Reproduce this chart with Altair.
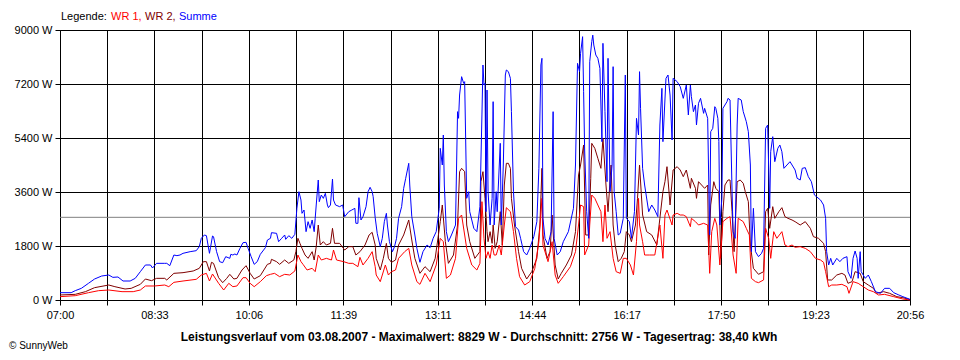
import altair as alt
import pandas as pd

# ---------------- data (minutes after 07:00, watts) ----------------
wr1_t = [0, 15, 28, 38, 48, 61, 72, 79, 84, 93, 103,
         107, 112, 121, 134, 139, 144, 147, 150, 156, 161, 166, 170, 174, 180, 183, 187, 191, 197, 203, 207,
         211, 216, 221, 226, 231, 234, 237, 239, 243, 248, 251, 254, 257, 262, 267, 269, 272, 279, 284, 288, 293, 295, 298, 303, 307, 310,
         311, 315, 320, 323, 326, 330, 333, 339, 343, 346, 351, 354, 359, 364, 370, 374, 377, 380, 384, 389, 392, 395, 400, 405, 410, 413,
         415, 417, 419, 421, 423, 425, 427, 429, 432, 434, 437, 439, 443, 446, 449, 452, 457, 462, 467, 471, 474, 475, 480, 484, 487, 490, 495, 502, 507, 510, 512, 515,
         516, 520, 521, 523, 526, 529, 532, 534, 536, 538, 541, 544, 547, 551, 554, 557, 561, 564, 567, 569, 570, 573, 575, 580, 585, 590, 593, 595, 597, 602, 603, 607, 610, 613, 616, 620,
         621, 625, 628, 633, 637, 639, 641, 644, 646, 649, 652, 656, 659, 662, 665, 667, 672, 675, 678, 680, 684, 687, 692, 694, 697, 699, 702, 705, 710, 713, 716, 720, 723,
         728, 733, 738, 743, 748, 751, 753, 756, 759, 764, 769, 774, 776, 780, 785, 790, 795, 800, 805, 811, 820, 829, 836]
wr1_w = [111, 144, 244, 311, 333, 278, 278, 333, 467, 467, 500,
         444, 589, 633, 689, 833, 889, 633, 867, 556, 333, 556, 444, 467, 744, 744, 556, 444, 611, 811, 856,
         889, 778, 856, 833, 967, 1500, 1278, 1189, 1000, 1056, 944, 1500, 1333, 1389, 1333, 1667, 1333, 1278, 1222, 1222, 1111, 1422, 1167, 1389, 1611, 1111,
         833, 611, 1167, 833, 944, 1000, 1389, 1611, 1722, 1167, 611, 522, 889, 611, 1167, 2056, 1944, 722, 833, 1389, 2722, 2833, 1722, 1167, 1000, 1222,
         3278, 2056, 1389, 1611, 1389, 1833, 1500, 1500, 1833, 1500, 2500, 3078, 2944, 2278, 1389, 778, 500, 611, 1056, 1944, 3389, 1833, 1278, 1944, 833, 556, 778, 1111, 1611, 2500, 3167, 3111,
         1500, 1833, 2500, 3500, 3389, 3167, 2944, 1944, 3167, 2056, 2278, 1389, 944, 889, 1389, 1389, 1167, 833, 1944, 3389, 2500, 1944, 1500, 1500, 1500, 2500, 1389, 2833, 3000, 2500, 2833, 2889, 2833, 2833, 2778, 2444,
         2722, 2611, 2500, 2556, 2500, 889, 2278, 2722, 2500, 1167, 2611, 2722, 2778, 1500, 889, 2722, 2611, 2389, 2167, 722, 611, 578, 667, 2389, 2056, 1389, 2278, 2056, 2278, 1833, 1778, 1833, 1756,
         1778, 1722, 1611, 1389, 1333, 1256, 944, 444, 500, 500, 522, 444, 222, 611, 556, 444, 333, 278, 167, 189, 111, 33, 0]

wr2_t = [0, 15, 25, 34, 48, 54, 64, 70, 79, 84, 90, 95, 103,
         105, 112, 121, 131, 137, 141, 144, 147, 149, 151, 156, 160, 164, 167, 171, 174, 179, 183, 187, 191, 197, 204, 207,
         208, 213, 216, 221, 225, 230, 232, 234, 236, 238, 241, 244, 248, 250, 252, 254, 256, 259, 262, 266, 268, 270, 275, 280, 284, 288, 291, 295, 300, 304, 307, 310,
         311, 315, 318, 321, 323, 326, 330, 333, 338, 343, 346, 349, 354, 359, 364, 369, 374, 376, 379, 382, 387, 391, 393, 395, 398, 400, 403, 408, 413,
         414, 416, 418, 420, 421, 423, 425, 426, 428, 430, 433, 435, 437, 439, 441, 443, 444, 447, 451, 454, 459, 464, 469, 472, 474, 475, 479, 482, 484, 487, 490, 493, 498, 503, 507, 510, 512, 515,
         517, 520, 522, 523, 526, 529, 532, 534, 537, 539, 542, 544, 546, 549, 552, 555, 557, 560, 562, 566, 568, 570, 573, 577, 582, 587, 590, 593, 595, 597, 600, 603, 607, 610, 613, 616, 620,
         621, 625, 626, 628, 631, 634, 637, 638, 640, 643, 645, 648, 650, 652, 654, 657, 659, 661, 663, 666, 669, 672, 674, 677, 679, 682, 687, 692, 694, 696, 698, 701, 703, 707, 710, 713, 716, 720, 723,
         728, 733, 738, 741, 746, 751, 753, 755, 759, 764, 769, 772, 775, 779, 782, 787, 790, 795, 800, 803, 810, 816, 823, 829, 836]
wr2_w = [167, 189, 278, 411, 500, 444, 367, 389, 522, 700, 644, 722, 722,
         667, 889, 911, 967, 1056, 1278, 1278, 967, 1256, 1222, 744, 578, 722, 856, 700, 722, 1000, 1144, 889, 700, 811, 1189, 1222,
         1356, 1278, 1189, 1333, 1222, 1333, 1611, 2056, 1889, 1722, 1500, 1389, 1611, 1333, 1778, 2500, 1833, 1944, 1833, 1889, 2389, 1889, 1889, 1667, 1778, 1778, 1500, 1611, 1833, 2167, 2256, 1833,
         1389, 1000, 1389, 1889, 1389, 1256, 1333, 1833, 2167, 2667, 2000, 1389, 889, 1111, 944, 1389, 2611, 3167, 1944, 1222, 1500, 2500, 4278, 4389, 4278, 2500, 1944, 1389, 1611,
         3944, 4278, 3389, 2278, 1944, 2278, 1889, 2500, 1722, 1944, 2944, 1833, 3833, 4556, 4556, 4389, 3389, 2500, 1611, 1056, 700, 944, 1389, 2500, 4389, 2167, 1389, 1611, 2833, 1167, 700, 889, 1167, 1500, 2278, 4167, 4500, 5167,
         2167, 2167, 4056, 5222, 5056, 4722, 4389, 5389, 3833, 2944, 4500, 2500, 1833, 1278, 1389, 1611, 2278, 2167, 1944, 2500, 3389, 4500, 2833, 2278, 2167, 1833, 2722, 3611, 3944, 4444, 3167, 4333, 4444, 4333, 4111, 4333, 3722,
         4056, 3722, 3389, 3944, 3833, 3722, 3833, 1500, 3167, 3944, 3722, 3611, 1389, 2944, 3833, 4000, 4000, 2944, 1611, 3944, 4000, 3889, 3611, 3278, 1833, 1056, 856, 944, 2944, 3056, 2389, 3111, 2722, 2944, 3078, 2778, 2722, 2667, 2611,
         2500, 2611, 2389, 2111, 2056, 1889, 1611, 667, 667, 833, 889, 833, 556, 611, 944, 889, 611, 500, 389, 222, 278, 222, 111, 78, 11]

sum_t = [0, 11, 15, 21, 28, 34, 41, 48, 52, 57, 62, 69, 74, 79, 84, 89, 91, 95, 103,
         105, 108, 112, 115, 118, 121, 128, 134, 137, 139, 142, 144, 147, 148, 150, 151, 154, 157, 160, 163, 167, 168, 170, 172, 174, 177, 180, 183, 185, 188, 191, 194, 197, 202, 204, 207,
         208, 213, 215, 218, 221, 222, 225, 228, 231, 233, 235, 237, 238, 240, 242, 244, 246, 248, 250, 251, 252, 254, 255, 257, 259, 261, 263, 264, 266, 268, 269, 271, 275, 278, 280, 284, 287, 290, 291, 293, 294, 296, 298, 301, 303, 305, 307, 308, 310,
         312, 315, 317, 319, 321, 322, 324, 327, 329, 331, 333, 336, 338, 340, 343, 344, 346, 349, 351, 354, 357, 361, 364, 367, 370, 373, 374, 376, 377, 378, 380, 382, 385, 389, 391, 392, 393, 395, 397, 398, 400, 402, 403, 407, 410, 413,
         415, 416, 417, 418, 419, 420, 421, 423, 425, 426, 427, 429, 430, 433, 434, 436, 438, 439, 441, 443, 444, 446, 448, 451, 453, 456, 459, 462, 466, 469, 471, 473, 474, 475, 477, 480, 483, 485, 486, 489, 492, 495, 500, 505, 507, 509, 511, 512, 514, 515,
         516, 518, 520, 521, 523, 524, 525, 527, 529, 531, 533, 534, 536, 538, 539, 541, 543, 544, 545, 547, 549, 551, 554, 556, 557, 560, 562, 565, 567, 569, 570, 571, 573, 575, 579, 582, 585, 588, 590, 592, 593, 596, 598, 600, 602, 603, 607, 610, 613, 616, 618, 620,
         621, 623, 625, 626, 628, 630, 633, 634, 637, 639, 640, 642, 644, 645, 647, 648, 649, 651, 652, 654, 656, 657, 659, 661, 662, 664, 666, 667, 670, 672, 675, 677, 679, 680, 682, 684, 687, 690, 692, 694, 696, 698, 699, 701, 703, 706, 708, 710, 712, 715, 718, 720, 723,
         725, 728, 730, 733, 736, 739, 742, 744, 748, 751, 753, 754, 756, 758, 760, 764, 767, 770, 774, 775, 778, 780, 782, 784, 785, 787, 788, 792, 795, 798, 802, 807, 811, 816, 820, 825, 829, 836]
sum_w = [244, 244, 311, 389, 556, 700, 800, 833, 755, 767, 633, 633, 722, 944, 1167, 1167, 1067, 1222, 1222,
         1222, 1144, 1500, 1478, 1500, 1556, 1611, 1644, 1778, 2056, 2167, 2144, 1556, 1744, 2133, 2111, 1611, 1278, 1244, 1444, 1389, 1522, 1500, 1533, 1500, 1722, 1911, 1922, 1722, 1444, 1189, 1278, 1522, 1744, 2000, 2056,
         2244, 2222, 1944, 2056, 2167, 2022, 2144, 2056, 2189, 3056, 3611, 3333, 2889, 3000, 2278, 2611, 2389, 2667, 2278, 2722, 3167, 4000, 3278, 3500, 3389, 3556, 3167, 3078, 3167, 4033, 3333, 3167, 3111, 3167, 2778, 2944, 3000, 3056, 2556, 2556, 3411, 2667, 2778, 3111, 3611, 3756, 3611, 3444, 2744,
         2222, 1778, 2056, 2611, 2889, 2500, 1944, 1611, 1778, 2056, 2722, 3111, 3722, 4056, 4556, 3833, 2778, 2167, 1722, 1256, 1611, 1833, 1744, 2056, 2278, 3056, 5056, 4500, 5500, 3833, 2278, 1944, 2167, 2500, 6278, 6056, 6833, 7444, 7222, 7278, 3389, 3611, 2944, 2389, 2278, 3111,
         6167, 7833, 7167, 7222, 2944, 7000, 3611, 2500, 3389, 6611, 2500, 3611, 2944, 5222, 2500, 4500, 7500, 7667, 7611, 7389, 6278, 3611, 2444, 2333, 2056, 1611, 1500, 1722, 2111, 2611, 4389, 7833, 8056, 2722, 2056, 1833, 2278, 6278, 2056, 1500, 1611, 1944, 2278, 3056, 4500, 7889, 7611, 8222, 8778, 6944,
         5000, 2944, 2056, 7944, 8611, 8829, 8500, 8167, 8056, 7722, 5278, 8556, 6278, 3944, 8056, 3611, 4500, 7778, 3611, 2944, 2167, 2222, 2722, 7500, 2722, 2611, 2056, 2944, 6056, 5500, 7611, 6389, 4389, 3833, 2944, 3167, 3000, 2778, 5833, 7056, 5278, 7389, 7500, 6833, 5333, 7389, 7278, 7111, 6722, 7167, 6167, 7167,
         6778, 6278, 6500, 5833, 6556, 6722, 6222, 6389, 6056, 2167, 5611, 5722, 6444, 6389, 6056, 5278, 2500, 3389, 6389, 6500, 6611, 6722, 6667, 3611, 2278, 2056, 5833, 6722, 6667, 6278, 5944, 5611, 4500, 1611, 3056, 1611, 1444, 1556, 1722, 5722, 5833, 3056, 4944, 5444, 4611, 5056, 5167, 4944, 4389, 4500, 4611, 4500, 4333,
         4056, 4000, 4389, 4411, 4111, 3944, 3500, 3444, 3333, 3167, 2722, 1611, 1167, 1389, 1167, 1389, 1278, 1389, 1444, 944, 722, 1389, 1633, 1389, 722, 1611, 944, 722, 833, 611, 278, 222, 389, 389, 244, 167, 111, 22]

series_names = ["WR 1", "WR 2", "Summe"]
series_colors = ["#FF0000", "#800000", "#0000FF"]
average_w = 2756
tick_labels = ["07:00", "08:33", "10:06", "11:39", "13:11", "14:44", "16:17", "17:50", "19:23", "20:56"]
y_ticks = [0, 1800, 3600, 5400, 7200, 9000]
total_min = 836
title_text = ("Leistungsverlauf vom 03.08.2007 - Maximalwert: 8829 W - Durchschnitt: 2756 W "
              "- Tagesertrag: 38,40 kWh")

# ---------------- build table ----------------
frames = []
for name, t, w in [("WR 1", wr1_t, wr1_w), ("WR 2", wr2_t, wr2_w), ("Summe", sum_t, sum_w)]:
    frames.append(pd.DataFrame({"t": t, "w": w, "series": name}))
df = pd.concat(frames, ignore_index=True)

FONT = "Liberation Sans"
x_tick_vals = [total_min * i / 18 for i in range(19)]
lab_arr = "[" + ",".join("'%s'" % s for s in tick_labels) + "]"
x_label_expr = ("round(datum.value*18/%d) %% 2 == 0 ? %s[round(datum.value*9/%d)] : ''"
                % (total_min, lab_arr, total_min))

x_enc = alt.X("t:Q", scale=alt.Scale(domain=[0, total_min], nice=False, zero=False),
              axis=alt.Axis(values=x_tick_vals, grid=True, gridColor="black", gridOpacity=1,
                            gridWidth=1, domain=False, tickColor="black", tickSize=5,
                            labelExpr=x_label_expr, labelFont=FONT, labelFontSize=11,
                            labelColor="black", labelPadding=4, labelFlush=False,
                            labelOverlap=False, title=None))
y_enc = alt.Y("w:Q", scale=alt.Scale(domain=[0, 9000], nice=False),
              axis=alt.Axis(values=y_ticks, grid=True, gridColor="black", gridOpacity=1,
                            gridWidth=1, domain=False, tickColor="black", tickSize=5,
                            labelExpr="datum.value + ' W'", labelFont=FONT, labelFontSize=11,
                            labelColor="black", labelPadding=3, title=None))
color_enc = alt.Color("series:N", scale=alt.Scale(domain=series_names, range=series_colors),
                      legend=None)

base = alt.Chart(df)
lines = []
for name in ["WR 2", "WR 1", "Summe"]:
    lines.append(
        base.transform_filter(alt.datum.series == name)
        .mark_line(strokeWidth=1, interpolate="linear")
        .encode(x=x_enc, y=y_enc, color=color_enc)
    )

avg = alt.Chart(pd.DataFrame({"w": [average_w]})).mark_rule(color="#808080", strokeWidth=1).encode(
    y=alt.Y("w:Q"))

def txt(s, x, y, color="black", align="left", weight="normal", size=11):
    return alt.Chart(pd.DataFrame({"s": [s]})).mark_text(
        align=align, baseline="middle", font=FONT, fontSize=size, color=color, fontWeight=weight
    ).encode(text="s:N", x=alt.value(x), y=alt.value(y))

legend_items = [("Legende:", 1, "black"), ("WR 1,", 51, series_colors[0]),
                ("WR 2,", 85, series_colors[1]), ("Summe", 119, series_colors[2])]
legend_layers = [txt(s, x, -13, c) for s, x, c in legend_items]
title_layer = txt(title_text, 419, 307, align="center", weight="bold", size=12)
credit = txt("© SunnyWeb", -51, 316, size=10)

chart = alt.layer(avg, *lines, *legend_layers, title_layer, credit).properties(
    width=850, height=270,
    autosize=alt.AutoSizeParams(type="none"),
    padding={"left": 52, "top": 22, "right": 40, "bottom": 58},
    background="white",
).configure_view(stroke="black", strokeWidth=1)

chart.save("out.html", embed_options={"renderer": "svg", "actions": False})
